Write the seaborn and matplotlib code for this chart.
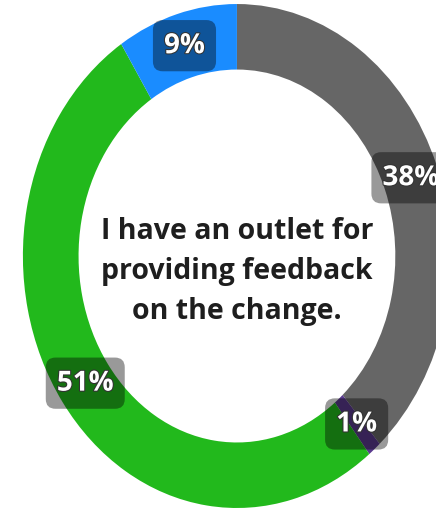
import numpy as np
import matplotlib.pyplot as plt
import matplotlib.patheffects as pe
import seaborn as sns

# datos del gráfico (en sentido horario desde arriba)
categories = ['Neutral', 'Disagree', 'Agree', 'Strongly agree']
values = [38, 1, 51, 9]
labels = ['38%', '1%', '51%', '9%']
colors = ['#666666', '#5a3a8e', '#22b91c', '#1a8cff']
title = 'I have an outlet for\nproviding feedback\non the change.'

sns.set_theme(style='white')
plt.rcParams['font.family'] = ['Open Sans', 'DejaVu Sans']

fig = plt.figure(figsize=(4.36, 5.09), dpi=100)
ax = fig.add_axes([0, 0, 1, 1])

wedges, _ = ax.pie(values, colors=colors, startangle=90, counterclock=False,
                   radius=1, wedgeprops=dict(width=0.26, edgecolor='none'))

# la imagen original está estirada y recortada a la derecha
ax.set_aspect('auto')
ax.set_xlim(-1.107, 0.930)
ax.set_ylim(-1.004, 1.016)
ax.axis('off')

# etiquetas de porcentaje en el centro de cada anillo
for w, lab in zip(wedges, labels):
    ang = np.deg2rad((w.theta1 + w.theta2) / 2)
    r = 0.87
    ax.text(r * np.cos(ang), r * np.sin(ang), lab, ha='center', va='center',
            fontsize=20, fontweight='bold', color='white',
            path_effects=[pe.withStroke(linewidth=1.5, foreground='#333333')],
            bbox=dict(boxstyle='round,pad=0.4,rounding_size=0.35',
                      facecolor='black', alpha=0.4, edgecolor='none'))

ax.text(0, -0.06, title, ha='center', va='center', fontsize=20.5,
        fontweight='bold', color='#1e1e1e', linespacing=1.5)

fig.savefig('out.png', dpi=100)
